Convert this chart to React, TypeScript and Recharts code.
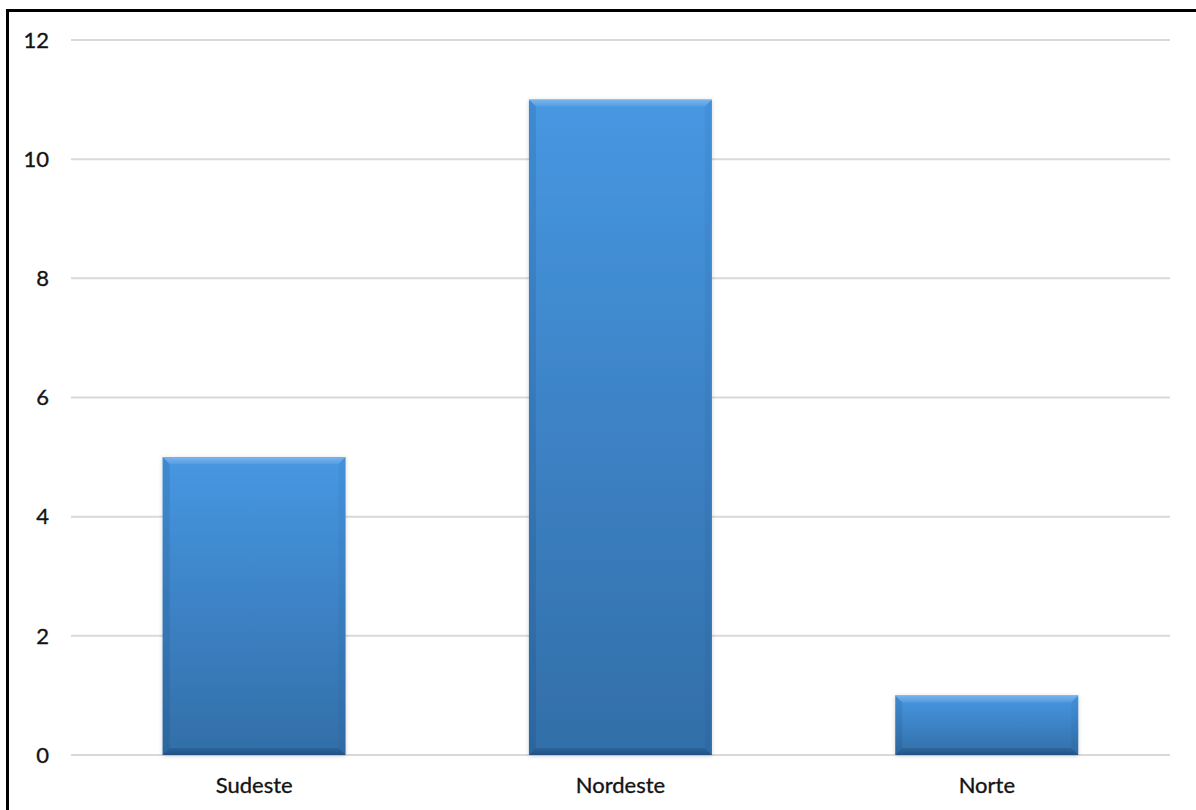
import React from "react";
import { Bar, BarChart, CartesianGrid, XAxis, YAxis } from "recharts";

const regions = ["Sudeste", "Nordeste", "Norte"];
const counts = [5, 11, 1];
const yTicks = [0, 2, 4, 6, 8, 10, 12];

const data = regions.map((name, i) => ({ name, value: counts[i] }));

const FONT = "Lato, 'Open Sans', sans-serif";
const TEXT = "#141414";
const BEVEL = 7;

const tickStyle = {
  fill: TEXT,
  fontSize: 22,
  fontFamily: FONT,
  stroke: TEXT,
  strokeWidth: 0.35,
};

// Bevelled bar: vertical gradient body plus four edge strips
function BevelBar(props: any) {
  const { x, y, width, height } = props;
  if (!height || height <= 0) return null;
  const b = Math.min(BEVEL, width / 2, height / 2);
  const x2 = x + width;
  const y2 = y + height;
  return (
    <g filter="url(#barShadow)">
      <rect x={x} y={y} width={width} height={height} fill="url(#barFill)" />
      {/* top */}
      <polygon
        points={`${x},${y} ${x2},${y} ${x2 - b},${y + b} ${x + b},${y + b}`}
        fill="url(#bevelTop)"
      />
      {/* left */}
      <polygon
        points={`${x},${y} ${x + b},${y + b} ${x + b},${y2 - b} ${x},${y2}`}
        fill="rgba(0,30,70,0.10)"
      />
      {/* right */}
      <polygon
        points={`${x2},${y} ${x2},${y2} ${x2 - b},${y2 - b} ${x2 - b},${y + b}`}
        fill="rgba(0,30,70,0.05)"
      />
      {/* bottom */}
      <polygon
        points={`${x},${y2} ${x + b},${y2 - b} ${x2 - b},${y2 - b} ${x2},${y2}`}
        fill="url(#bevelBottom)"
      />
      <line x1={x} y1={y + 0.5} x2={x2} y2={y + 0.5} stroke="#6fb3f0" strokeWidth={1} />
    </g>
  );
}

export default function App() {
  return (
    <div
      style={{
        position: "absolute",
        left: 0,
        top: 0,
        width: 1196,
        height: 810,
        background: "#fff",
        overflow: "hidden",
      }}
    >
      <div
        style={{
          position: "absolute",
          left: 6,
          top: 9,
          width: 1300,
          height: 900,
          borderTop: "3px solid #000",
          borderLeft: "3px solid #000",
        }}
      />
      <div style={{ position: "absolute", left: 0, top: 0 }}>
        <BarChart
          width={1196}
          height={810}
          data={data}
          margin={{ top: 40, right: 26, bottom: 25, left: 0 }}
          barCategoryGap="25%"
        >
          <defs>
            <linearGradient id="barFill" x1="0" y1="0" x2="0" y2="1">
              <stop offset="0%" stopColor="#4797e2" />
              <stop offset="100%" stopColor="#326ea8" />
            </linearGradient>
            <linearGradient id="bevelTop" x1="0" y1="0" x2="0" y2="1">
              <stop offset="0%" stopColor="rgba(255,255,255,0.28)" />
              <stop offset="100%" stopColor="rgba(255,255,255,0.08)" />
            </linearGradient>
            <linearGradient id="bevelBottom" x1="0" y1="0" x2="0" y2="1">
              <stop offset="0%" stopColor="rgba(0,20,50,0.12)" />
              <stop offset="100%" stopColor="rgba(0,20,50,0.32)" />
            </linearGradient>
            <filter id="barShadow" x="-10%" y="-10%" width="120%" height="120%">
              <feDropShadow dx="0" dy="1" stdDeviation="2" floodColor="#000" floodOpacity="0.18" />
            </filter>
          </defs>
          <CartesianGrid vertical={false} stroke="#d9d9d9" strokeWidth={2} />
          <XAxis
            dataKey="name"
            height={30}
            axisLine={false}
            tickLine={false}
            tickSize={0}
            tickMargin={22}
            tick={tickStyle}
          />
          <YAxis
            width={71}
            domain={[0, 12]}
            ticks={yTicks}
            axisLine={false}
            tickLine={false}
            tickSize={0}
            tickMargin={22}
            tick={tickStyle}
          />
          <Bar dataKey="value" shape={<BevelBar />} isAnimationActive={false} />
        </BarChart>
      </div>
    </div>
  );
}
